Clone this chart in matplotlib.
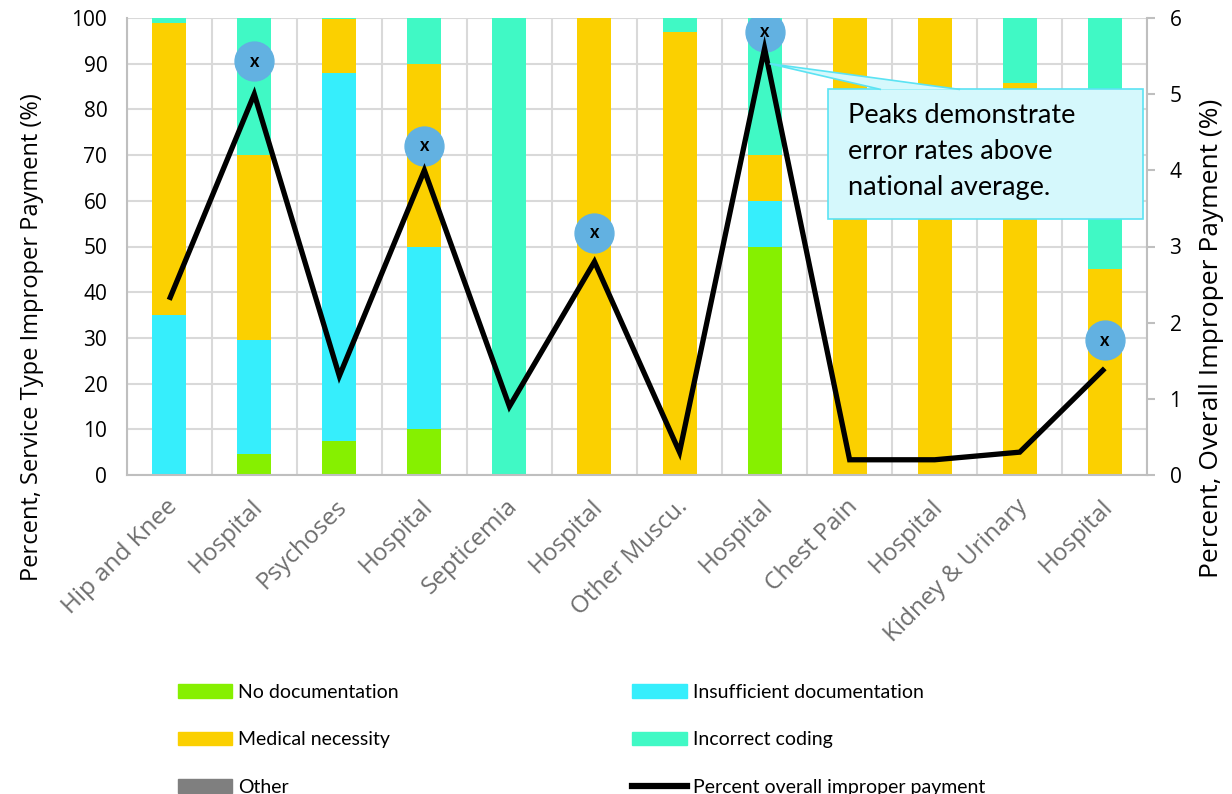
import numpy as np
import matplotlib.pyplot as plt
import matplotlib.transforms as mtransforms
from matplotlib.patches import Patch, Rectangle, Polygon
from matplotlib.lines import Line2D

plt.rcParams['font.family'] = ['Open Sans', 'DejaVu Sans']

# categories on the x axis
categories = ['Hip and Knee', 'Hospital', 'Psychoses', 'Hospital', 'Septicemia',
              'Hospital', 'Other Muscu.', 'Hospital', 'Chest Pain', 'Hospital',
              'Kidney & Urinary', 'Hospital']

# stacked shares per error type (percent of service type improper payment)
no_doc = [0, 4.5, 7.5, 10, 0, 0, 0, 50, 0, 0, 0, 0]
insufficient = [35, 25, 80.5, 40, 0, 0, 0, 10, 0, 0, 0, 0]
medical = [64, 40.5, 11.7, 40, 0, 100, 97, 10, 100, 100, 85.7, 45]
incorrect = [1, 30, 0.3, 10, 100, 0, 3, 30, 0, 0, 14.3, 55]
other = [0] * 12

# percent overall improper payment (right axis)
overall = [2.3, 5.0, 1.3, 4.0, 0.9, 2.8, 0.3, 5.6, 0.2, 0.2, 0.3, 1.4]

# highlighted peaks (right axis units)
peak_idx = [1, 3, 5, 7, 11]
peak_y = [5.43, 4.32, 3.18, 5.82, 1.77]

c_green = '#86F000'
c_cyan = '#36EEFC'
c_yellow = '#FBD000'
c_teal = '#40F9C5'
c_gray = '#7F7F7F'

fig = plt.figure(figsize=(12.32, 7.94), dpi=100)
ax = fig.add_axes([126.7 / 1232, 1 - 475 / 794, (1147.3 - 126.7) / 1232, (475 - 18) / 794])

x = np.arange(len(categories))
w = 0.4
bottom = np.zeros(len(categories))
for vals, col in [(no_doc, c_green), (insufficient, c_cyan), (medical, c_yellow),
                  (incorrect, c_teal), (other, c_gray)]:
    ax.bar(x, vals, w, bottom=bottom, color=col, zorder=2)
    bottom += np.array(vals)

ax.set_xlim(-0.5, len(categories) - 0.5)
ax.set_ylim(0, 100)
ax.set_yticks(range(0, 101, 10))
ax.set_xticks(x)
ax.set_xticks(np.arange(-0.5, len(categories), 1), minor=True)
ax.set_axisbelow(True)
ax.grid(True, which='major', axis='y', color='#D9D9D9', lw=1.5)
ax.grid(True, which='minor', axis='x', color='#D9D9D9', lw=1.5)
ax.tick_params(axis='both', which='both', length=0)
ax.tick_params(axis='y', labelsize=15, pad=14)
ax.tick_params(axis='x', pad=14)
ax.set_xticklabels(categories, rotation=45, ha='right', va='top',
                   rotation_mode='anchor', fontsize=17.5, color='#6E6E6E')
shift = mtransforms.ScaledTranslation(-4 / 100, 0, fig.dpi_scale_trans)
for lab in ax.get_xticklabels():
    lab.set_transform(lab.get_transform() + shift)
for s in ['top', 'right']:
    ax.spines[s].set_visible(False)
for s in ['left', 'bottom']:
    ax.spines[s].set_color('#BFBFBF')
    ax.spines[s].set_linewidth(1.5)
ax.set_ylabel('Percent, Service Type Improper Payment (%)', fontsize=17)
ax.yaxis.set_label_coords((44 - 126.7) / 1020.6, (475 - 337) / 457)

ax2 = ax.twinx()
ax2.set_ylim(0, 6)
ax2.set_yticks(range(0, 7))
ax2.tick_params(axis='y', length=6, width=1.5, color='#BFBFBF', labelsize=15, pad=10)
for s in ['top', 'left', 'bottom']:
    ax2.spines[s].set_visible(False)
ax2.spines['right'].set_color('#BFBFBF')
ax2.spines['right'].set_linewidth(1.5)
ax2.set_ylabel('Percent, Overall Improper Payment (%)', fontsize=19)
ax2.yaxis.set_label_coords((1199 - 126.7) / 1020.6, (475 - 338) / 457)

ax2.plot(x[peak_idx], peak_y, 'o', ms=28, color='#62B1E1', zorder=2)
for i, yv in zip(peak_idx, peak_y):
    ax2.text(i, yv, 'x', ha='center', va='center', fontsize=13, fontweight='bold',
             family='Lato', zorder=3)
ax2.plot(x, overall, color='black', lw=3.8, solid_joinstyle='miter',
         solid_capstyle='butt', zorder=4)

# callout box
box_face = '#D5F8FC'
box_edge = '#5BE3F3'
tip = ax2.transData.transform((7.06, 5.4))
tip = fig.transFigure.inverted().transform(tip)
fig.patches.append(Rectangle((828 / 1232, 1 - 219 / 794), 315 / 1232, 130 / 794,
                             transform=fig.transFigure, fc=box_face, ec=box_edge,
                             lw=1.2, zorder=5))
fig.patches.append(Polygon([(881 / 1232, 1 - 89.5 / 794), tuple(tip), (960 / 1232, 1 - 89.5 / 794)],
                           closed=False, transform=fig.transFigure, fc=box_face,
                           ec=box_edge, lw=1.2, zorder=5))
fig.text(848 / 1232, 1 - 103 / 794, 'Peaks demonstrate\nerror rates above\nnational average.',
         ha='left', va='top', fontsize=19.5, family='Lato', linespacing=1.55,
         zorder=6)

handles = [Patch(color=c_green), Patch(color=c_yellow), Patch(color=c_gray),
           Patch(color=c_cyan), Patch(color=c_teal), Line2D([], [], color='black', lw=4.5)]
labels = ['No documentation', 'Medical necessity', 'Other',
          'Insufficient documentation', 'Incorrect coding', 'Percent overall improper payment']
fig.legend(handles, labels, ncol=2, loc='upper left', bbox_to_anchor=(178 / 1232, 1 - 684 / 794),
           frameon=False, prop={'family': 'Lato', 'size': 14}, handlelength=2.8,
           handleheight=0.72, handletextpad=0.3, columnspacing=12, labelspacing=1.56,
           borderpad=0, borderaxespad=0)

fig.savefig('out.png', dpi=100)
